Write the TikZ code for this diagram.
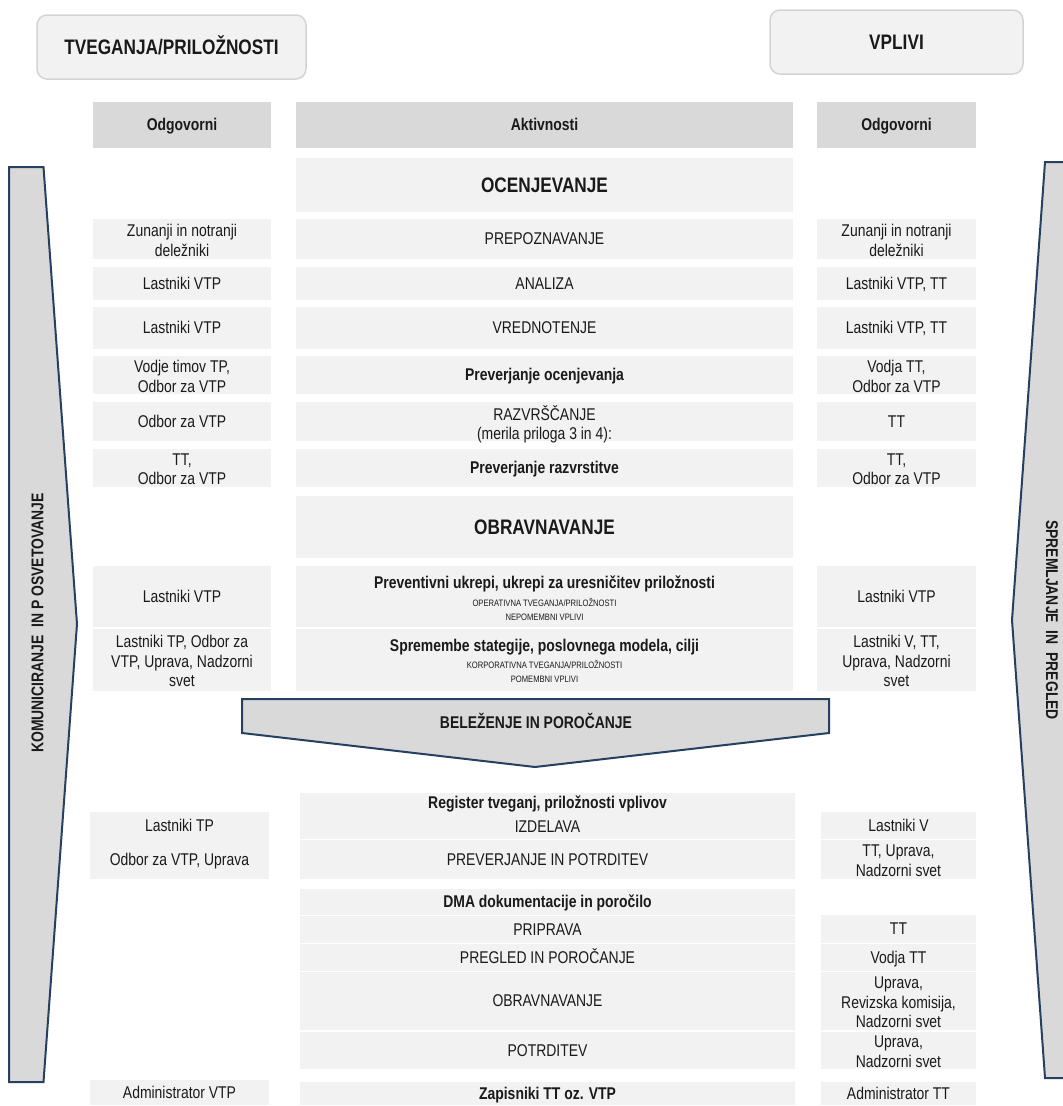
\documentclass[tikz,border=0pt]{standalone}
\usepackage{fontspec}
\setmainfont{Liberation Sans}[FakeStretch=0.82]
\definecolor{hdr}{HTML}{D9D9D9}
\definecolor{cellc}{HTML}{F2F2F2}
\definecolor{arrowfill}{HTML}{D9D9D9}
\definecolor{navy}{HTML}{254061}
\definecolor{boxline}{HTML}{D4D4D4}
\definecolor{txt}{HTML}{1A1A1A}
\newcommand\fbody{\fontsize{17}{19.5}\selectfont}
\newcommand\ftitle{\fontsize{21}{24}\selectfont\bfseries}
\newcommand\fsmall{\fontsize{9.3}{14}\selectfont}
\newcommand\mystrut{\rule[-0.212em]{0pt}{1.117em}}
\newcommand\cellnode[7][cellbox]{\node[#1, minimum width={(#5)-(#3)}, minimum height={(#6)-(#4)}] (#2) at ({((#3)+(#5))/2},{((#4)+(#6))/2}) {#7};}
% multi-line cell: box plus text nudged down a little
\newcommand\mlcell[6]{\node[cellbox, minimum width={(#4)-(#2)}, minimum height={(#5)-(#3)}] (#1) at ({((#2)+(#4))/2},{((#3)+(#5))/2}) {};
  \node[lbl] (#1-t) at ({((#2)+(#4))/2},{((#3)+(#5))/2+3}) {#6};}
\tikzset{
  struts/.style={execute at begin node=\mystrut, execute at end node=\mystrut},
  cellbox/.style={fill=cellc, draw=none, inner sep=0, align=center, font=\fbody, text=txt, struts},
  hdrbox/.style={fill=hdr, draw=none, inner sep=0, align=center, font=\fbody\bfseries, text=txt, struts},
  titlebox/.style={fill=cellc, draw=boxline, line width=1.5, rounded corners=10, inner sep=0, align=center, font=\ftitle, text=txt, struts},
  bigarrow/.style={fill=arrowfill, draw=navy, line width=2, line join=miter},
  lbl/.style={inner sep=0, align=center, text=txt, font=\fbody, struts},
}
\begin{document}
\begin{tikzpicture}[x=1pt,y=-1pt]
\useasboundingbox (0,0) rectangle (1063,1106);
% big side arrows
\draw[bigarrow] (9,167) -- (43.5,167) -- (77,624) -- (43.5,1082) -- (9,1082) -- cycle;
\node[lbl, font=\fbody\bfseries, rotate=90] (kom) at (37.5,623) {KOMUNICIRANJE\ \ IN P OSVETOVANJE};
\begin{scope}
\clip (0,0) rectangle (1063,1106);
\draw[bigarrow] (1090,162) -- (1045,162) -- (1012,620) -- (1045,1078) -- (1090,1078) -- cycle;
\end{scope}
\node[lbl, font=\fbody\bfseries, rotate=-90] (spr) at (1052,620) {SPREMLJANJE\ \ IN\ \ PREGLED};
% title boxes
\cellnode[titlebox]{tp}{37}{15}{306}{79}{TVEGANJA/PRILOŽNOSTI}
\cellnode[titlebox]{vp}{770}{10}{1023}{74}{VPLIVI}
% headers
\cellnode[hdrbox]{hL}{93}{102}{271}{148}{Odgovorni}
\cellnode[hdrbox]{hM}{296}{102}{793}{148}{Aktivnosti}
\cellnode[hdrbox]{hR}{817}{102}{976}{148}{Odgovorni}
% OCENJEVANJE
\cellnode[cellbox, font=\ftitle]{ocen}{296}{158}{793}{212}{OCENJEVANJE}
\mlcell{l1}{93}{219}{271}{259}{Zunanji in notranji\\deležniki}
\cellnode{m1}{296}{219}{793}{259}{PREPOZNAVANJE}
\mlcell{r1}{817}{219}{976}{259}{Zunanji in notranji\\deležniki}
\cellnode{l2}{93}{267}{271}{300}{Lastniki VTP}
\cellnode{m2}{296}{267}{793}{300}{ANALIZA}
\cellnode{r2}{817}{267}{976}{300}{Lastniki VTP, TT}
\cellnode{l3}{93}{307}{271}{349}{Lastniki VTP}
\cellnode{m3}{296}{307}{793}{349}{VREDNOTENJE}
\cellnode{r3}{817}{307}{976}{349}{Lastniki VTP, TT}
\mlcell{l4}{93}{356}{271}{394}{Vodje timov TP,\\Odbor za VTP}
\cellnode[cellbox, font=\fbody\bfseries]{m4}{296}{356}{793}{394}{Preverjanje ocenjevanja}
\mlcell{r4}{817}{356}{976}{394}{Vodja TT,\\Odbor za VTP}
\cellnode{l5}{93}{402}{271}{441}{Odbor za VTP}
\mlcell{m5}{296}{402}{793}{441}{RAZVRŠČANJE\\(merila priloga 3 in 4):}
\cellnode{r5}{817}{402}{976}{441}{TT}
\mlcell{l6}{93}{449}{271}{487}{TT,\\Odbor za VTP}
\cellnode[cellbox, font=\fbody\bfseries]{m6}{296}{449}{793}{487}{Preverjanje razvrstitve}
\mlcell{r6}{817}{449}{976}{487}{TT,\\Odbor za VTP}
% OBRAVNAVANJE
\cellnode[cellbox, font=\ftitle]{obr}{296}{496}{793}{558}{OBRAVNAVANJE}
\cellnode{l7}{93}{566}{271}{627}{Lastniki VTP}
\cellnode{m7}{296}{566}{793}{627}{}
\node[lbl, font=\fbody\bfseries] (m7a) at (544.5,583) {Preventivni ukrepi, ukrepi za uresničitev priložnosti};
\node[lbl, font=\fsmall] (m7b) at (544.5,610) {OPERATIVNA TVEGANJA/PRILOŽNOSTI\\NEPOMEMBNI VPLIVI};
\cellnode{r7}{817}{566}{976}{627}{Lastniki VTP}
\mlcell{l8}{93}{629}{271}{691}{Lastniki TP, Odbor za\\VTP, Uprava, Nadzorni\\svet}
\cellnode{m8}{296}{629}{793}{691}{}
\node[lbl, font=\fbody\bfseries] (m8a) at (544.5,646) {Spremembe stategije, poslovnega modela, cilji};
\node[lbl, font=\fsmall] (m8b) at (544.5,672) {KORPORATIVNA TVEGANJA/PRILOŽNOSTI\\POMEMBNI VPLIVI};
\mlcell{r8}{817}{629}{976}{691}{Lastniki V, TT,\\Uprava, Nadzorni\\svet}
% BELEZENJE arrow
\draw[bigarrow] (242,699) -- (829,699) -- (829,733) -- (535,767) -- (242,733) -- cycle;
\node[lbl, font=\fbody\bfseries] (bel) at (536,723) {BELEŽENJE IN POROČANJE};
% register
\cellnode{reg}{300}{793}{795}{839}{}
\node[lbl, font=\fbody\bfseries] (rega) at (547.5,803) {Register tveganj, priložnosti vplivov};
\node[lbl] (regb) at (547.5,827) {IZDELAVA};
\cellnode{lreg}{90}{812}{269}{879}{}
\node[lbl] (lrega) at (179.5,826) {Lastniki TP};
\node[lbl] (lregb) at (179.5,860) {Odbor za VTP, Uprava};
\cellnode{rreg}{821}{812}{976}{839}{Lastniki V}
\cellnode{mpp}{300}{840}{795}{879}{PREVERJANJE IN POTRDITEV}
\mlcell{rpp}{821}{840}{976}{879}{TT, Uprava,\\Nadzorni svet}
% DMA
\cellnode[cellbox, font=\fbody\bfseries]{dma}{300}{889}{795}{915}{DMA dokumentacije in poročilo}
\cellnode{mpr}{300}{916}{795}{943}{PRIPRAVA}
\cellnode{rpr}{821}{915}{976}{943}{TT}
\cellnode{mpg}{300}{944}{795}{971}{PREGLED IN POROČANJE}
\cellnode{rpg}{821}{944}{976}{971}{Vodja TT}
\cellnode{mob}{300}{972}{795}{1030}{OBRAVNAVANJE}
\mlcell{rob}{821}{972}{976}{1030}{Uprava,\\Revizska komisija,\\Nadzorni svet}
\cellnode{mpo}{300}{1032}{795}{1069}{POTRDITEV}
\mlcell{rpo}{821}{1032}{976}{1069}{Uprava,\\Nadzorni svet}
% Zapisniki
\cellnode{lza}{90}{1080}{269}{1105}{Administrator VTP}
\cellnode[cellbox, font=\fbody\bfseries]{mza}{300}{1082}{795}{1105}{Zapisniki TT oz. VTP}
\cellnode{rza}{821}{1082}{976}{1105}{Administrator TT}
\end{tikzpicture}
\end{document}
